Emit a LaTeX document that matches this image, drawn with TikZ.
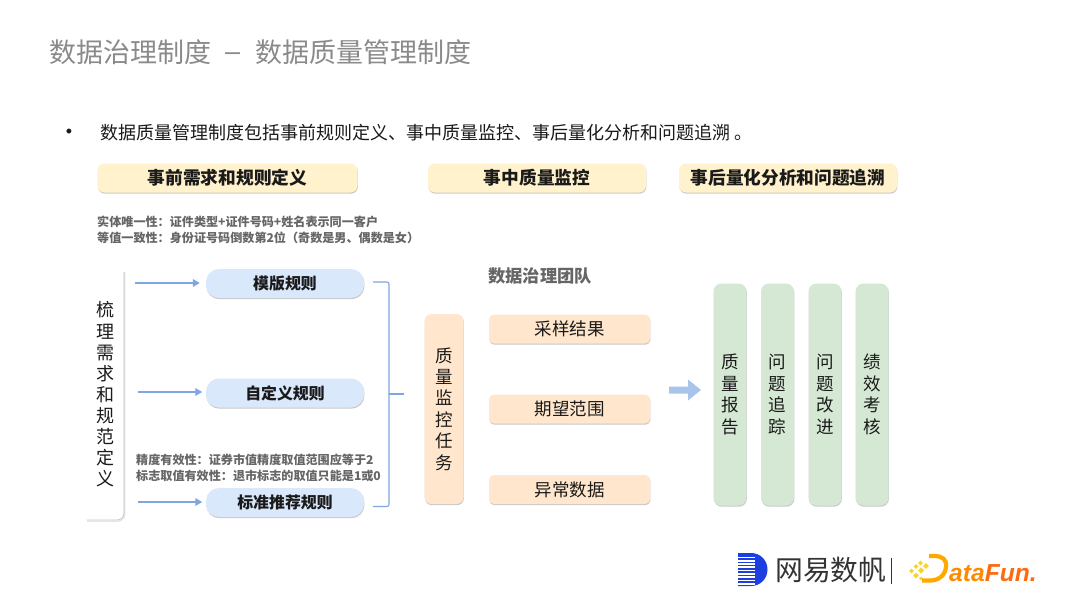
\documentclass[tikz,border=0pt]{standalone}
\usepackage{fontspec}
\setmainfont{Noto Sans CJK SC}
\newfontfamily\latinfont{Liberation Sans}
\usetikzlibrary{shadows,arrows.meta,positioning,calc}
\definecolor{hdr}{HTML}{FFF2CC}
\definecolor{blu}{HTML}{DAE8FC}
\definecolor{ora}{HTML}{FFE6CC}
\definecolor{grn}{HTML}{D5E8D4}
\definecolor{lin}{HTML}{7EA6E0}
\definecolor{ttl}{HTML}{8A8A8A}
\definecolor{txt}{HTML}{1A1A1A}
\definecolor{note}{HTML}{666666}
\definecolor{fat}{HTML}{A9C4EB}
\definecolor{dfa}{HTML}{FFA800}
\definecolor{dfb}{HTML}{FF8A00}
\definecolor{dfc}{HTML}{FF6A10}
\definecolor{dfd}{HTML}{F9D423}
\definecolor{neb}{HTML}{1D3FE0}
\tikzset{
  shad/.style={drop shadow={shadow xshift=0.4pt,shadow yshift=-1.2pt,opacity=.35,fill=black!60}},
  box/.style={shad,rounded corners=#1,inner sep=0pt,text=txt,align=center},
  box/.default=6pt,
  headbox/.style={box=7pt,fill=hdr,minimum height=29pt,font=\fontsize{17.7}{20}\selectfont\bfseries},
  rulebox/.style={box=13pt,fill=blu,minimum width=158pt,minimum height=29pt,font=\fontsize{15.9}{18}\selectfont\bfseries},
  outbox/.style={box=5pt,fill=ora,minimum width=161pt,minimum height=29pt,font=\fontsize{17.5}{20}\selectfont},
  taskbox/.style={box=7pt,fill=ora,minimum width=39pt,minimum height=190pt,font=\fontsize{17.5}{21.4}\selectfont},
  resbox/.style={box=8pt,fill=grn,minimum width=33pt,minimum height=222pt,font=\fontsize{17.5}{21.5}\selectfont},
  notetext/.style={inner sep=0pt,anchor=north west,align=left,text=note,font=\fontsize{12.1}{16}\selectfont\bfseries},
  thinarrow/.style={draw=lin,line width=2pt,-{Triangle[length=7pt,width=7.5pt]}},
  bracket/.style={draw=lin,line width=1.1pt,rounded corners=2pt},
  titletext/.style={anchor=west,inner sep=0pt,text=ttl,font=\fontsize{27}{30}\selectfont},
  chip/.style={fill=dfd},
}
\begin{document}
\begin{tikzpicture}[x=1pt,y=-1pt]
\useasboundingbox (0,0) rectangle (1080,608);
\fill[white] (0,0) rectangle (1080,608);

\node[titletext] (title) at (49,52) {数据治理制度};
\node[titletext] (dash) at (225,57) {\latinfont –};
\node[titletext] (title2) at (255,52) {数据质量管理制度};
\node[inner sep=0pt,text=txt,font=\latinfont\fontsize{18}{20}\selectfont] (bullet) at (69,133) {•};
\node[anchor=west,inner sep=0pt,text=txt,font=\fontsize{18}{20}\selectfont] (intro) at (100,133) {数据质量管理制度包括事前规则定义、事中质量监控、事后量化分析和问题追溯 。};

\node[headbox,minimum width=260pt] (h1) at (227.5,178) {事前需求和规则定义};
\node[headbox,minimum width=218pt] (h2) at (537,178) {事中质量监控};
\node[headbox,minimum width=218pt] (h3) at (788,178) {事后量化分析和问题追溯};

\node[notetext] (n1) at (97,216) {实体唯一性：证件类型+证件号码+姓名表示同一客户\\等值一致性：身份证号码倒数第2位（奇数是男、偶数是女）};
\node[notetext] (n2) at (136,454) {精度有效性：证券市值精度取值范围应等于2\\标志取值有效性：退市标志的取值只能是1或0};

% left bracket panel
\draw[black!10,line width=1.4pt,rounded corners=7pt] (124.6,272) -- (124.6,521.2) -- (87,521.2);
\draw[black!22,line width=.7pt,rounded corners=7pt] (124,272) -- (124,520) -- (87,520);
\node[inner sep=0pt,align=center,text=txt,font=\fontsize{18}{21.1}\selectfont] (side) at (105,394.5) {梳\\理\\需\\求\\和\\规\\范\\定\\义};

\node[rulebox] (r1) at (285,283.5) {模版规则};
\node[rulebox] (r2) at (285,393) {自定义规则};
\node[rulebox] (r3) at (285,502.5) {标准推荐规则};

\coordinate (a1) at (135,283);
\coordinate (a2) at (138,392);
\coordinate (a3) at (138,502);
\draw[thinarrow,shorten >=6pt] (a1) -- (r1.west|-a1);
\draw[thinarrow,shorten >=3.5pt] (a2) -- (r2.west|-a2);
\draw[thinarrow,shorten >=3.5pt] (a3) -- (r3.west|-a3);

\coordinate (bt) at (373,282);
\coordinate (bb) at (373,506.5);
\coordinate (bm) at (389,394);
\coordinate (bo) at (404,394);
\draw[bracket] (bt) -| (bm) |- (bb);
\draw[bracket] (bm) -- (bo);

\node[taskbox] (task) at (444,409) {质\\量\\监\\控\\任\\务};
\node[inner sep=0pt,text=note,font=\fontsize{17.3}{20}\selectfont\bfseries] (team) at (540,275.5) {数据治理团队};
\node[outbox] (o1) at (569.5,329) {采样结果};
\node[outbox] (o2) at (569.5,409) {期望范围};
\node[outbox] (o3) at (569.5,489.5) {异常数据};

\fill[fat] (669,386.5) -- (688,386.5) -- (688,379.5) -- (701,390) -- (688,400.5) -- (688,393.5) -- (669,393.5) -- cycle;

\node[resbox] (g1) at (730,394.5) {质\\量\\报\\告};
\node[resbox] (g2) at (777.5,394.5) {问\\题\\追\\踪};
\node[resbox] (g3) at (825,394.5) {问\\题\\改\\进};
\node[resbox] (g4) at (872,394.5) {绩\\效\\考\\核};

% netease logo
\fill[neb] (738,553) -- (751,553) .. controls (760,553) and (767.5,560) .. (767.5,569.5) .. controls (767.5,579) and (760,586) .. (751,586) -- (738,586) -- cycle;
\foreach \yy in {556.5,559.8,...,583}{\fill[white] (738,\yy) rectangle (755,\yy+1.7);}
\node[anchor=west,inner sep=0pt,text=black!80,font=\fontsize{27.8}{30}\selectfont] (ne) at (775,570) {网易数帆};
\draw[black!80,line width=1pt] (891,558) -- (891,584);
% datafun logo
\foreach \px/\py/\sz in {911.5/571/2.4, 916/566.5/2.4, 920.5/563/2.4, 916/575.5/2.8, 921/570.5/3, 926/566/2.8, 921/578.5/2}{
  \fill[chip] (\px-\sz,\py) -- (\px,\py-\sz) -- (\px+\sz,\py) -- (\px,\py+\sz) -- cycle;}
\draw[dfa,line width=4.2pt] (929,556) -- (934,556) .. controls (943,556) and (947,560) .. (946,567) .. controls (945,576) and (938,580.5) .. (930,580.5) -- (922,580.5);
\node[anchor=west,inner sep=0pt,font=\fontsize{24.6}{26}\selectfont\bfseries\itshape,text=dfb] (df) at (949,573.5) {\latinfont ata\textcolor{dfc}{Fun.}};
\end{tikzpicture}
\end{document}
